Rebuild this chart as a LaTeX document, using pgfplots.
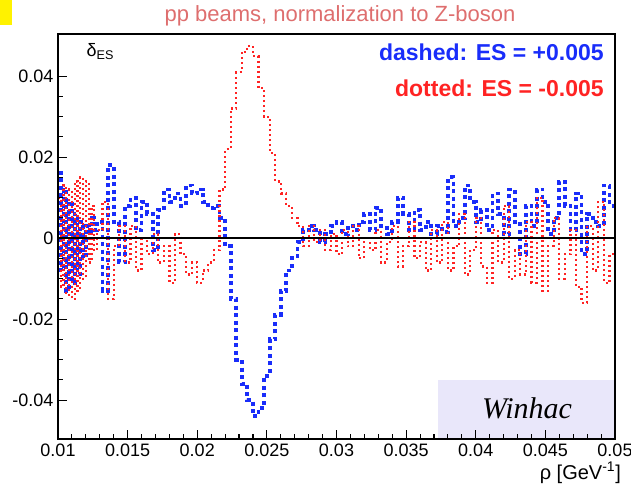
\documentclass[border=0pt]{standalone}
\usepackage{fontspec}
\setmainfont{Liberation Sans}
\newfontfamily\serifit{Liberation Serif}
\usepackage{pgfplots}
\pgfplotsset{compat=1.18}
\definecolor{tcol}{RGB}{222,110,110}
\definecolor{bcol}{RGB}{25,45,250}
\definecolor{rcol}{RGB}{255,35,35}
\definecolor{boxcol}{RGB}{233,231,250}
\begin{document}
\begin{tikzpicture}
\begin{axis}[
  at={(0,0)}, anchor=south west,
  scale only axis, width=557pt, height=405pt,
  xmin=0.01, xmax=0.05, ymin=-0.0496, ymax=0.0504,
  scaled ticks=false,
  xtick={0.01,0.015,0.02,0.025,0.03,0.035,0.04,0.045,0.05},
  xticklabels={0.01,0.015,0.02,0.025,0.03,0.035,0.04,0.045,0.05},
  ytick={-0.04,-0.02,0,0.02,0.04},
  yticklabels={-0.04,-0.02,0,0.02,0.04},
  minor x tick num=4, minor y tick num=3,
  tick pos=left, tick align=inside,
  major tick length=9pt, minor tick length=5pt,
  axis line style={line width=1.8pt},
  every tick/.style={black, line width=1.1pt},
  tick label style={font=\fontsize{18}{18}\selectfont},
  xticklabel style={yshift=-1pt},
  yticklabel style={xshift=-1pt},
  axis on top,
  clip=true,
]
\fill[boxcol] (rel axis cs:0.682,0) rectangle (rel axis cs:1,0.146);
\node[font=\serifit\itshape\fontsize{30}{30}\selectfont] at (rel axis cs:0.842,0.075) {Winhac};

% blue: ES = +0.005 (dashed), histogram, bin left edges
\addplot[const plot, color=bcol, line width=3.8pt, dash pattern=on 4pt off 3.5pt] coordinates {
(0.0100,0.016) (0.0102,-0.008) (0.0104,0.012) (0.0106,-0.013) (0.0108,0.009)
(0.0110,-0.011) (0.0112,0.006) (0.0114,-0.009) (0.0116,0.004) (0.0118,-0.005)
(0.0120,0.003) (0.0122,0.001) (0.0124,0.005) (0.0126,0.002) (0.0128,0.004)
(0.0132,-0.013) (0.0136,0.018) (0.0140,0.004) (0.0144,-0.006) (0.0148,0.008)
(0.0152,0.010) (0.0156,0.002) (0.0160,0.009) (0.0164,0.006) (0.0168,-0.003)
(0.0172,0.007) (0.0176,0.012) (0.0180,0.009) (0.0184,0.011) (0.0188,0.008)
(0.0192,0.013) (0.0196,0.011) (0.0200,0.012) (0.0204,0.009) (0.0208,0.0075)
(0.0212,0.008) (0.0216,0.005) (0.0220,-0.002) (0.0224,-0.015) (0.0228,-0.030)
(0.0232,-0.036) (0.0236,-0.040) (0.0240,-0.044) (0.0244,-0.042) (0.0248,-0.034)
(0.0252,-0.025) (0.0256,-0.019) (0.0260,-0.013) (0.0264,-0.008) (0.0268,-0.005)
(0.0272,-0.001) (0.0276,0.002) (0.0280,0.003) (0.0284,0.002) (0.0288,-0.001)
(0.0292,0.001) (0.0296,0.003) (0.0300,0.004) (0.0304,0.001) (0.0308,0.003)
(0.0312,0.002) (0.0316,0.004) (0.0320,0.006) (0.0324,0.002) (0.0328,0.0075)
(0.0332,0.003) (0.0336,0.001) (0.0340,0.004) (0.0344,0.010) (0.0348,0.006)
(0.0352,0.002) (0.0356,0.007) (0.0360,0.002) (0.0364,0.004) (0.0368,0.001)
(0.0372,0.003) (0.0376,0.0015) (0.0380,0.015) (0.0384,0.003) (0.0388,0.005)
(0.0392,0.013) (0.0396,0.009) (0.0400,0.004) (0.0404,0.007) (0.0408,0.002)
(0.0412,0.011) (0.0416,0.006) (0.0420,0.001) (0.0424,0.012) (0.0428,0.004)
(0.0432,-0.004) (0.0436,0.008) (0.0440,0.003) (0.0444,0.012) (0.0448,0.009)
(0.0452,0.001) (0.0456,0.005) (0.0460,0.014) (0.0464,0.008) (0.0468,0.002)
(0.0472,0.011) (0.0476,-0.004) (0.0480,0.006) (0.0484,0.004) (0.0488,0.003)
(0.0492,0.013) (0.0496,0.008) (0.0500,0.008)
};

% red: ES = -0.005 (dotted)
\addplot[const plot, color=rcol, line width=2.2pt, dash pattern=on 2pt off 3pt] coordinates {
(0.0100,0.010) (0.0102,-0.012) (0.0104,0.013) (0.0106,-0.014) (0.0108,0.012)
(0.0110,-0.015) (0.0112,0.014) (0.0114,-0.013) (0.0116,0.015) (0.0118,-0.010)
(0.0120,0.014) (0.0122,-0.006) (0.0124,0.008) (0.0126,-0.003) (0.0128,0.002)
(0.0132,0.009) (0.0136,-0.015) (0.0140,-0.002) (0.0144,0.003) (0.0148,-0.006)
(0.0152,0.003) (0.0156,-0.008) (0.0160,0.000) (0.0164,-0.004) (0.0168,0.001)
(0.0172,-0.006) (0.0176,-0.002) (0.0180,-0.011) (0.0184,0.001) (0.0188,-0.004)
(0.0192,-0.009) (0.0196,-0.006) (0.0200,-0.011) (0.0204,-0.008) (0.0208,-0.006)
(0.0212,-0.003) (0.0216,0.012) (0.0220,0.022) (0.0224,0.032) (0.0228,0.041)
(0.0232,0.046) (0.0236,0.0475) (0.0240,0.045) (0.0244,0.037) (0.0248,0.030)
(0.0252,0.021) (0.0256,0.014) (0.0260,0.011) (0.0264,0.008) (0.0268,0.005)
(0.0272,0.003) (0.0276,-0.002) (0.0280,0.003) (0.0284,-0.001) (0.0288,0.002)
(0.0292,-0.003) (0.0296,0.001) (0.0300,-0.004) (0.0304,0.002) (0.0308,-0.002)
(0.0312,0.003) (0.0316,-0.005) (0.0320,0.000) (0.0324,-0.003) (0.0328,0.002)
(0.0332,-0.006) (0.0336,-0.001) (0.0340,0.003) (0.0344,-0.007) (0.0348,-0.002)
(0.0352,0.004) (0.0356,-0.005) (0.0360,-0.001) (0.0364,-0.008) (0.0368,0.002)
(0.0372,-0.006) (0.0376,0.004) (0.0380,-0.008) (0.0384,-0.002) (0.0388,0.006)
(0.0392,-0.009) (0.0396,-0.003) (0.0400,0.005) (0.0404,-0.007) (0.0408,-0.011)
(0.0412,0.002) (0.0416,-0.006) (0.0420,0.008) (0.0424,-0.010) (0.0428,-0.003)
(0.0432,-0.009) (0.0436,0.004) (0.0440,-0.011) (0.0444,0.010) (0.0448,-0.013)
(0.0452,-0.002) (0.0456,0.005) (0.0460,-0.010) (0.0464,-0.004) (0.0468,0.002)
(0.0472,-0.012) (0.0476,-0.016) (0.0480,0.003) (0.0484,-0.008) (0.0488,0.009)
(0.0492,-0.011) (0.0496,-0.004) (0.0500,-0.004)
};

\addplot[black, line width=2.2pt] coordinates {(0.01,0) (0.05,0)};

\node[anchor=north west, font=\fontsize{18}{18}\selectfont] at (rel axis cs:0.045,0.985) {δ\textsubscript{ES}};
\node[anchor=north east, text=bcol, font=\bfseries\fontsize{23}{23}\selectfont] at (rel axis cs:0.986,0.985) {dashed: ES = +0.005};
\node[anchor=north east, text=rcol, font=\bfseries\fontsize{23}{23}\selectfont] at (rel axis cs:0.986,0.895) {dotted: ES = -0.005};
\end{axis}
\node[anchor=north east, font=\fontsize{20}{20}\selectfont, inner sep=0pt] at (563pt,-23pt) {ρ [GeV\textsuperscript{-1}]};
\fill[yellow] (-58pt,414pt) rectangle (-46pt,439pt);
\node[text=tcol, font=\fontsize{22}{22}\selectfont] at (282pt,423pt) {pp beams, normalization to Z-boson};
\pgfresetboundingbox
\path (-58pt,-51pt) rectangle (573pt,439pt);
\end{tikzpicture}
\end{document}
